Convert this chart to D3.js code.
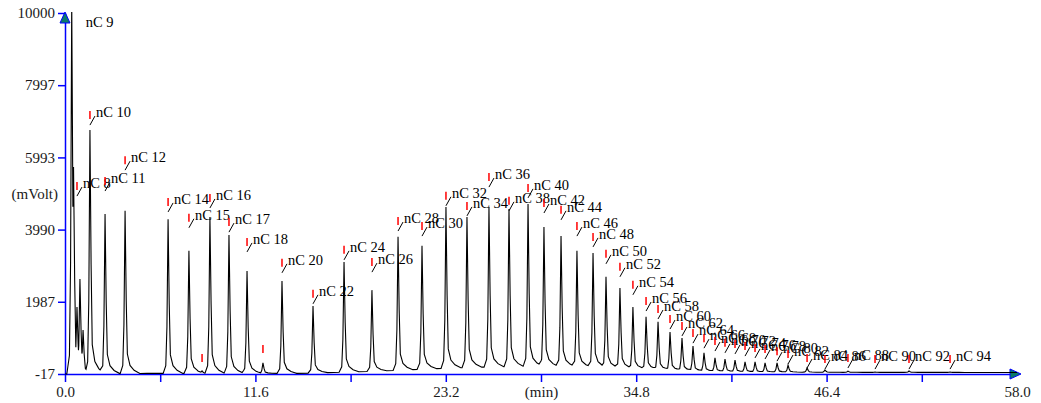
<!DOCTYPE html>
<html>
<head>
<meta charset="utf-8">
<script src="https://cdn.jsdelivr.net/npm/d3@7"></script>
<style>
  body { margin: 0; background: #fff; }
  svg { display: block; }
</style>
</head>
<body>
<svg id="chart" width="1041" height="403"></svg>
<script>
// peak apex retention times (min) and apex signal (mV)
const peakTimes = [0.41, 0.52, 0.73, 0.91, 1.10, 1.52, 2.44, 3.66, 6.28, 7.55, 8.35, 8.83, 9.99,
  11.09, 12.06, 13.22, 15.11, 17.00, 18.70, 20.29, 21.75, 23.21, 24.49, 25.83, 27.05, 28.21, 29.18,
  30.22, 31.19, 32.17, 32.96, 33.81, 34.60, 35.40, 36.13, 36.86, 37.59, 38.26, 38.93, 39.60, 40.21,
  40.82, 41.43, 42.04, 42.65, 43.38, 44.05, 45.21, 46.30, 47.70, 49.35, 51.42, 53.92];
const peakHeights = [10300, 5730, 1840, 2620, 1200, 6750, 4420, 4510, 4280, 3400, 70, 4340, 3840,
  2840, 290, 2560, 1870, 3090, 2310, 3790, 3540, 4620, 4340, 4620, 4560, 4700, 4060,
  3810, 3400, 3340, 2680, 2370, 1840, 1570, 1430, 1150, 980, 760, 570, 430, 400,
  370, 320, 320, 290, 290, 230, 150, 95, 65, 40, 65, 40];
// null = no label, '' = marker only
const peakNames = ['nC 9', null, 'nC 8', null, null, 'nC 10', 'nC 11', 'nC 12', 'nC 14', 'nC 15', '', 'nC 16', 'nC 17',
  'nC 18', '', 'nC 20', 'nC 22', 'nC 24', 'nC 26', 'nC 28', 'nC 30', 'nC 32', 'nC 34', 'nC 36', 'nC 38', 'nC 40', 'nC 42',
  'nC 44', 'nC 46', 'nC 48', 'nC 50', 'nC 52', 'nC 54', 'nC 56', 'nC 58', 'nC 60', 'nC 62', 'nC 64', 'nC 66', 'nC 68', 'nC 70',
  'nC 72', 'nC 74', 'nC 76', 'nC 78', 'nC 80', 'nC 82', 'nC 84', 'nC 86', 'nC 88', 'nC 90', 'nC 92', 'nC 94'];
// signal level (mV) where each label's leader starts
const labelLevels = [9390, null, 4920, null, null, 6890, 5060, 5640, 4480, 4040, 150, 4590, 3920,
  3370, 400, 2790, 1930, 3150, 2810, 3950, 3810, 4650, 4370, 5170, 4510, 4870, 4450,
  4260, 3810, 3510, 3040, 2680, 2180, 1730, 1510, 1230, 1040, 840, 700, 620, 570,
  540, 480, 430, 400, 340, 260, 150, 120, 150, 120, 120, 120];

// baseline hump under the peaks
const baseTimes = [0, 0.35, 5, 14, 16, 19, 22, 25, 29, 32.5, 35.5, 38.5, 42, 46, 58];
const baseLevels = [-17, -17, 0, 0, 20, 60, 120, 170, 200, 170, 120, 70, 40, 30, 25];

const yTicks = [-17, 1987, 3990, 5993, 7997, 10000];
const xTicks = [0, 5.8, 11.6, 17.4, 23.2, 29.0, 34.8, 40.6, 46.4, 52.2, 58.0];
const xTickLabels = ['0.0', '', '11.6', '', '23.2', '(min)', '34.8', '', '46.4', '', '58.0'];

// peak profile (offset in min from apex, fraction of peak height)
const shapeDt = [-0.30, -0.14, -0.07, 0, 0.07, 0.14, 0.3, 0.55, 0.9];
const shapeFr = [0, 0.05, 0.3, 1, 0.45, 0.12, 0.05, 0.02, 0];

const serif = '"Liberation Serif", "Times New Roman", Times, serif';
const svg = d3.select('#chart').attr('font-family', serif);
const x = d3.scaleLinear().domain([0, 58]).range([65, 1017]);
const y = d3.scaleLinear().domain([-17, 10000]).range([374, 13]);
const blue = '#0000ff';

const base = d3.scaleLinear().domain(baseTimes).range(baseLevels).clamp(true);
const shape = d3.scaleLinear().domain(shapeDt).range(shapeFr).clamp(true);

// build trace points: each peak sits on the baseline, overlapping peaks take the higher one
let times = baseTimes.slice();
peakTimes.forEach(t => shapeDt.forEach(d => times.push(t + d)));
times = Array.from(new Set(times.filter(t => t >= 0 && t <= 58).map(t => +t.toFixed(4)))).sort((a, b) => a - b);
const amps = peakTimes.map((t, i) => peakHeights[i] - base(t));
const trace = times.map(t => {
  const b = base(t);
  let v = b;
  peakTimes.forEach((pt, i) => {
    const d = t - pt;
    if (d > shapeDt[0] && d < shapeDt[shapeDt.length - 1]) v = Math.max(v, b + amps[i] * shape(d));
  });
  return [t, v];
});

svg.append('clipPath').attr('id', 'plot')
  .append('rect').attr('x', 65).attr('y', 12).attr('width', 960).attr('height', 364);

// axes
const xAxis = svg.append('g').attr('transform', 'translate(0,374)')
  .call(d3.axisBottom(x).tickValues(xTicks).tickSize(8).tickSizeOuter(0)
    .tickFormat((d, i) => xTickLabels[i]));
xAxis.selectAll('.tick line').filter((d, i) => i === xTicks.length - 1).remove();

const yAxis = svg.append('g').attr('transform', 'translate(65,0)')
  .call(d3.axisLeft(y).tickValues(yTicks).tickSize(7).tickSizeOuter(0)
    .tickFormat(d => d));

[xAxis, yAxis].forEach(g => g.attr('font-family', serif).attr('font-size', 15));
xAxis.selectAll('text').attr('y', 12).attr('fill', '#1a1a1a');
yAxis.selectAll('text').attr('fill', '#1a1a1a');

svg.selectAll('.domain, .tick line').attr('stroke', blue).attr('stroke-width', 1.5);
svg.append('line').attr('x1', x(58)).attr('x2', 1016).attr('y1', 374).attr('y2', 374)
  .attr('stroke', blue).attr('stroke-width', 1.5);

// arrow heads
svg.append('path').attr('d', 'M65,12 L70,23 L60,23 Z').attr('fill', '#0a7a6a').attr('stroke', blue).attr('stroke-width', 1);
svg.append('path').attr('d', 'M1021,374 L1010,369 L1010,379 Z').attr('fill', '#0a7a6a').attr('stroke', blue).attr('stroke-width', 1);

svg.append('text').attr('x', 58).attr('y', 199).attr('text-anchor', 'end')
  .attr('font-size', 15).attr('fill', '#1a1a1a').text('(mVolt)');

// chromatogram trace
const line = d3.line().x(d => x(d[0])).y(d => y(d[1]));
svg.append('path').datum(trace).attr('clip-path', 'url(#plot)')
  .attr('d', line).attr('fill', 'none').attr('stroke', '#000').attr('stroke-width', 1.1);

// peak labels
const labels = svg.append('g').attr('font-size', 14.5);
peakTimes.forEach((t, i) => {
  const name = peakNames[i];
  if (name === null) return;
  const px = x(t), ay = y(labelLevels[i]);
  if (peakHeights[i] >= 10000) {
    labels.append('text').attr('x', px + 14).attr('y', ay - 8).text(name);
    return;
  }
  labels.append('line').attr('x1', px).attr('x2', px).attr('y1', ay - 14).attr('y2', ay - 6)
    .attr('stroke', '#ff0000').attr('stroke-width', 1.5);
  if (name === '') return;
  labels.append('line').attr('x1', px).attr('y1', ay).attr('x2', px + 5).attr('y2', ay - 9)
    .attr('stroke', '#000').attr('stroke-width', 1);
  labels.append('text').attr('x', px + 6).attr('y', ay - 8).text(name);
});
</script>
</body>
</html>
